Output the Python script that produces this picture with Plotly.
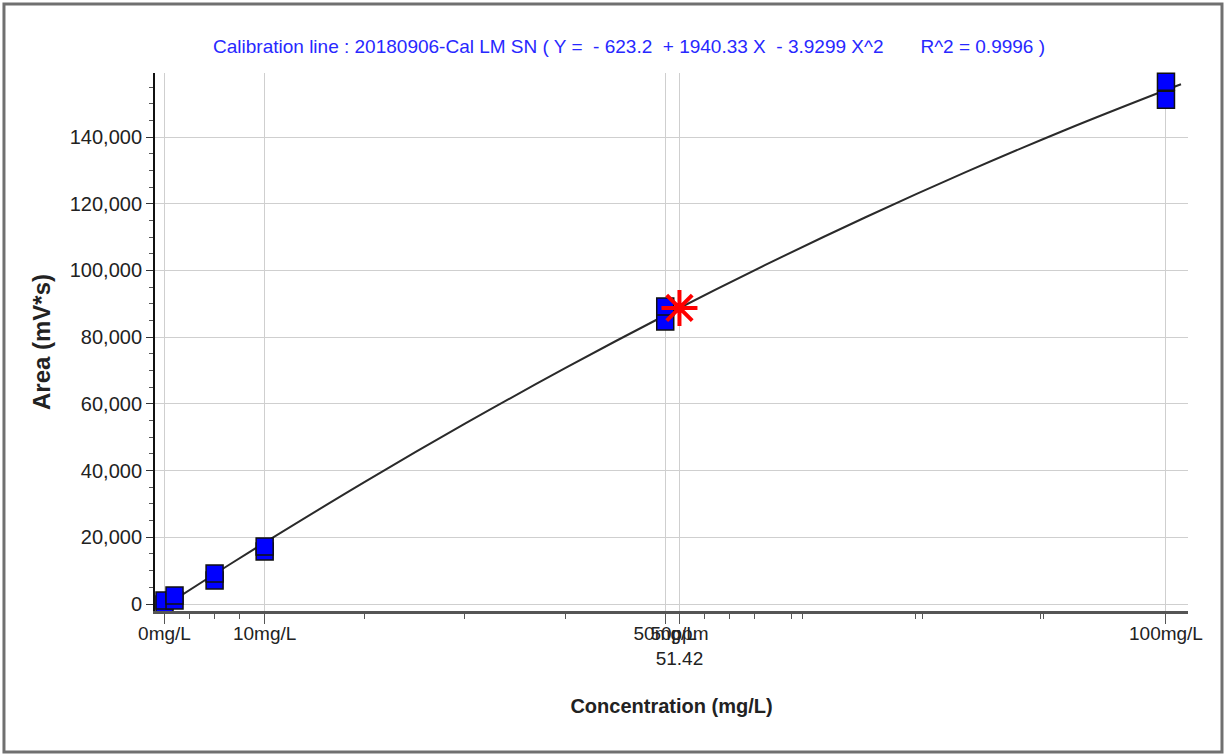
import plotly.graph_objects as go

# Calibration standards (concentration mg/L, area mV*s) - two replicates each
std_conc = [0, 0, 1, 1, 5, 5, 10, 10, 50, 50, 100, 100]
std_area = [-150, 1050, 1050, 2550, 7050, 9140, 15740, 17240, 84700, 89200, 151200, 156600]

# Calibration curve
curve_conc = [0, 5, 10, 20, 30, 40, 50, 60, 70, 80, 90, 100, 101.5]
curve_area = [-620, 9000, 18390, 36610, 54050, 70700, 86570, 101650, 115950, 129470, 142200, 154110, 155830]

# Sample
sample_conc = [51.42]
sample_area = [88760]

x_tickvals = [0, 10, 50, 51.42, 100]
x_ticktext = ["0mg/L", "10mg/L", "50mg/L", "50ppm<br>51.42", "100mg/L"]
x_minor_vals = [2.5, 5, 7.5, 20, 30, 40, 53.9, 56.4, 58.9, 62.6, 63.7, 75, 75.7, 87.5, 87.8]
y_tickvals = [0, 20000, 40000, 60000, 80000, 100000, 120000, 140000]
y_ticktext = ["0", "20,000", "40,000", "60,000", "80,000", "100,000", "120,000", "140,000"]

TITLE = ("Calibration line : 20180906-Cal LM SN ( Y =  - 623.2  + 1940.33 X  - 3.9299 X^2"
         "\u00a0\u00a0\u00a0\u00a0\u00a0\u00a0\u00a0R^2 = 0.9996 )")

FONT = "Liberation Sans, Arial, sans-serif"

fig = go.Figure()

fig.add_trace(go.Scatter(
    x=curve_conc, y=curve_area, mode="lines",
    line=dict(color="#2a2a2a", width=2, shape="spline"),
    hoverinfo="skip", showlegend=False))

fig.add_trace(go.Scatter(
    x=std_conc, y=std_area, mode="markers",
    marker=dict(symbol="square", size=17, color="#0000ff",
                line=dict(color="#111111", width=1.5)),
    showlegend=False, cliponaxis=False))

fig.add_trace(go.Scatter(
    x=sample_conc, y=sample_area, mode="markers",
    marker=dict(symbol="asterisk-open", size=30, color="#ff0000",
                line=dict(color="#ff0000", width=4)),
    showlegend=False, cliponaxis=False))

# invisible trace on secondary axis carrying the long major ticks + minor ticks
fig.add_trace(go.Scatter(x=[-0.95, 102.2], y=[0, 0], mode="markers",
                         marker=dict(opacity=0), xaxis="x2", showlegend=False,
                         hoverinfo="skip"))

fig.update_layout(
    width=1225, height=755,
    paper_bgcolor="white", plot_bgcolor="white",
    margin=dict(l=155, r=37, t=73, b=144),
    title=dict(text=TITLE, x=0.4589, xref="paper", xanchor="center",
               y=1 - 46 / 755, yref="container", yanchor="middle",
               font=dict(family=FONT, size=19, color="#2828ff")),
    xaxis=dict(
        range=[-0.95, 102.2], tickvals=x_tickvals, ticktext=x_ticktext,
        tickangle=0,
        showgrid=True, gridcolor="#cfcfcf", gridwidth=1,
        zeroline=False, showline=True, linecolor="#555555", linewidth=3,
        ticks="outside", ticklen=3, tickcolor="#555555", tickwidth=1,
        tickfont=dict(family=FONT, size=19, color="#222222"),
        title=dict(text="<b>Concentration (mg/L)</b>", standoff=32,
                   font=dict(family=FONT, size=20, color="#222222")),
    ),
    xaxis2=dict(
        range=[-0.95, 102.2], overlaying="x", side="bottom", anchor="y",
        tickvals=x_tickvals, ticktext=[""] * len(x_tickvals),
        ticks="outside", ticklen=12, tickcolor="#555555", tickwidth=1,
        minor=dict(tickvals=x_minor_vals, ticks="outside", ticklen=7,
                   tickcolor="#555555", tickwidth=1, showgrid=False),
        showgrid=False, zeroline=False, showline=False,
    ),
    yaxis=dict(
        range=[-2100, 159200], tickvals=y_tickvals, ticktext=y_ticktext,
        showgrid=True, gridcolor="#cfcfcf", gridwidth=1,
        zeroline=False, showline=True, linecolor="#111111", linewidth=2,
        ticks="outside", ticklen=7, tickcolor="#333333", tickwidth=1,
        tickfont=dict(family=FONT, size=20, color="#222222"),
        minor=dict(dtick=5000, tick0=0, ticks="outside", ticklen=4,
                   tickcolor="#555555", showgrid=False),
        title=dict(text="<b>Area (mV*s)</b>", standoff=12,
                   font=dict(family=FONT, size=24, color="#222222")),
    ),
    shapes=[dict(type="rect", xref="paper", yref="paper",
                 x0=-0.1462, x1=1.0329, y0=-0.2621, y1=1.1283,
                 line=dict(color="#707070", width=3), fillcolor="rgba(0,0,0,0)",
                 layer="below")],
)

fig.write_html("out.html", config={"displayModeBar": False},
               post_script="document.body.style.margin='0';")
